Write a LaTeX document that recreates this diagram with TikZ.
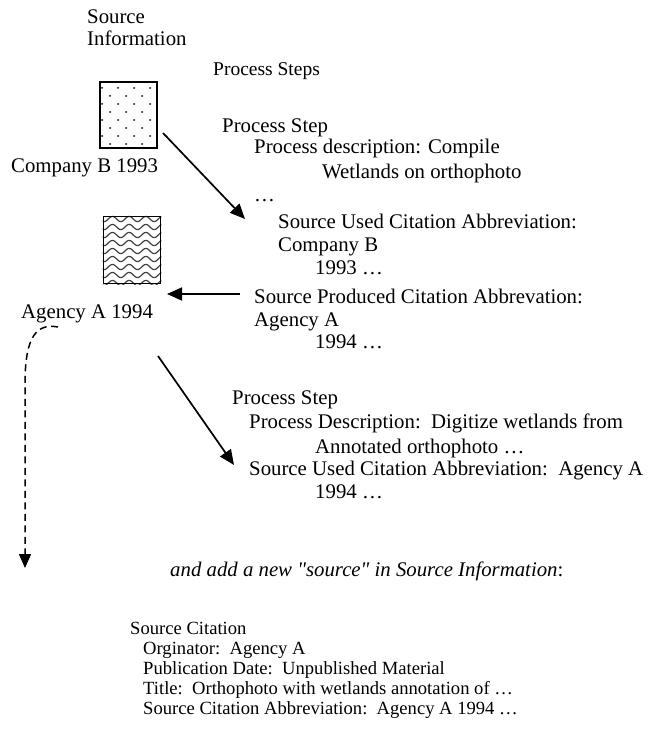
\documentclass[tikz,border=0pt]{standalone}
\usepackage{fontspec}
\setmainfont{Liberation Serif}[Ligatures=TeXOff]
\usetikzlibrary{arrows.meta}
\tikzset{
  txt/.style={anchor=base west, inner sep=0pt, font=\fontsize{20.8}{24}\selectfont},
  headtxt/.style={anchor=base west, inner sep=0pt, font=\fontsize{19.5}{22}\selectfont},
  smalltxt/.style={anchor=base west, inner sep=0pt, font=\fontsize{18.6}{22}\selectfont},
  conn/.style={line width=1.7pt, -{Triangle[length=15pt,width=13pt]}},
  dconn/.style={line width=1.5pt, dash pattern=on 7pt off 4.5pt, -{Triangle[length=14pt,width=12pt]}},
  boxframe/.style={draw, line width=1.8pt},
}
\begin{document}
\begin{tikzpicture}[x=1pt,y=-1pt]
\useasboundingbox (0,0) rectangle (654,735);
% source information heading
\node[txt] (srcinfo1) at (87,24) {Source};
\node[txt] (srcinfo2) at (87,46) {Information};
\node[headtxt] (steps) at (213,76) {Process Steps};
% dotted box
\node[boxframe, minimum width=57pt, minimum height=66pt, inner sep=0pt] (boxB) at (128.5,115) {};
\foreach \r in {0,...,7} {
  \pgfmathsetmacro{\yy}{88+8*\r}
  \ifodd\r
    \foreach \c in {0,1,2} { \fill (110+16*\c,\yy) circle (1pt); }
  \else
    \foreach \c in {0,1,2,3} { \fill (102+16*\c,\yy) circle (1pt); }
  \fi
}
\node[txt] (labB) at (11,173) {Company B 1993};
% wavy box
\node[boxframe, minimum width=57pt, minimum height=67pt, inner sep=0pt] (boxA) at (132,250) {};
\begin{scope}
\clip (boxA.south west) rectangle (boxA.north east);
\foreach \r in {0,...,8} {
  \draw[line width=1.2pt, gray!50!black] plot[domain=100:165, samples=60, smooth] (\x, {219+8*\r+2.6*sin(\x*21.6)});
}
\end{scope}
\node[boxframe, minimum width=57pt, minimum height=67pt, inner sep=0pt] at (132,250) {};
\node[txt] (labA) at (21,318) {Agency A 1994};
% first process step
\node[txt] (ps1) at (222,133) {Process Step};
\node[txt] (ps1a) at (254,154) {Process description: Compile};
\node[txt] (ps1b) at (322,179) {Wetlands on orthophoto};
\node[txt] (ps1c) at (254,202) {\dots};
\node[txt] (ps1d) at (278,228) {Source Used Citation Abbreviation:};
\node[txt] (ps1e) at (278,251) {Company B};
\node[txt] (ps1f) at (315,274) {1993 \dots};
\node[txt] (ps1g) at (254,303) {Source Produced Citation Abbrevation:};
\node[txt] (ps1h) at (254,326) {Agency A};
\node[txt] (ps1i) at (315,348) {1994 \dots};
% second process step
\node[txt] (ps2) at (232,404) {Process Step};
\node[txt] (ps2a) at (249,428) {Process Description:\ \ Digitize wetlands from};
\node[txt] (ps2b) at (315,453) {Annotated orthophoto \dots};
\node[txt] (ps2c) at (249,475) {Source Used Citation Abbreviation:\ \ Agency A};
\node[txt] (ps2d) at (315,498) {1994 \dots};
% new source
\node[txt] (note) at (170,576) {\itshape and add a new "source" in Source Information\upshape:};
\node[smalltxt] (sc) at (130,634) {Source Citation};
\node[smalltxt] (sc1) at (143,654) {Orginator:\ \ Agency A};
\node[smalltxt] (sc2) at (143,674) {Publication Date:\ \ Unpublished Material};
\node[smalltxt] (sc3) at (143,694) {Title:\ \ Orthophoto with wetlands annotation of \dots};
\node[smalltxt] (sc4) at (143,714) {Source Citation Abbreviation:\ \ Agency A 1994 \dots};
% connectors
\coordinate (a1s) at (163,133);
\coordinate (a1e) at (245,219);
\draw[conn] (a1s) -- (a1e);
\coordinate (a2s) at (240,294);
\coordinate (a2e) at (167,294);
\draw[conn] (a2s) -- (a2e);
\coordinate (a3s) at (158,356);
\coordinate (a3e) at (234,465);
\draw[conn] (a3s) -- (a3e);
\coordinate (d1s) at (58,327);
\coordinate (d1m) at (25,385);
\coordinate (d1e) at (25,568);
\draw[dconn] (d1s) .. controls (32,322) and (25,345) .. (d1m) -- (d1e);
\end{tikzpicture}
\end{document}
